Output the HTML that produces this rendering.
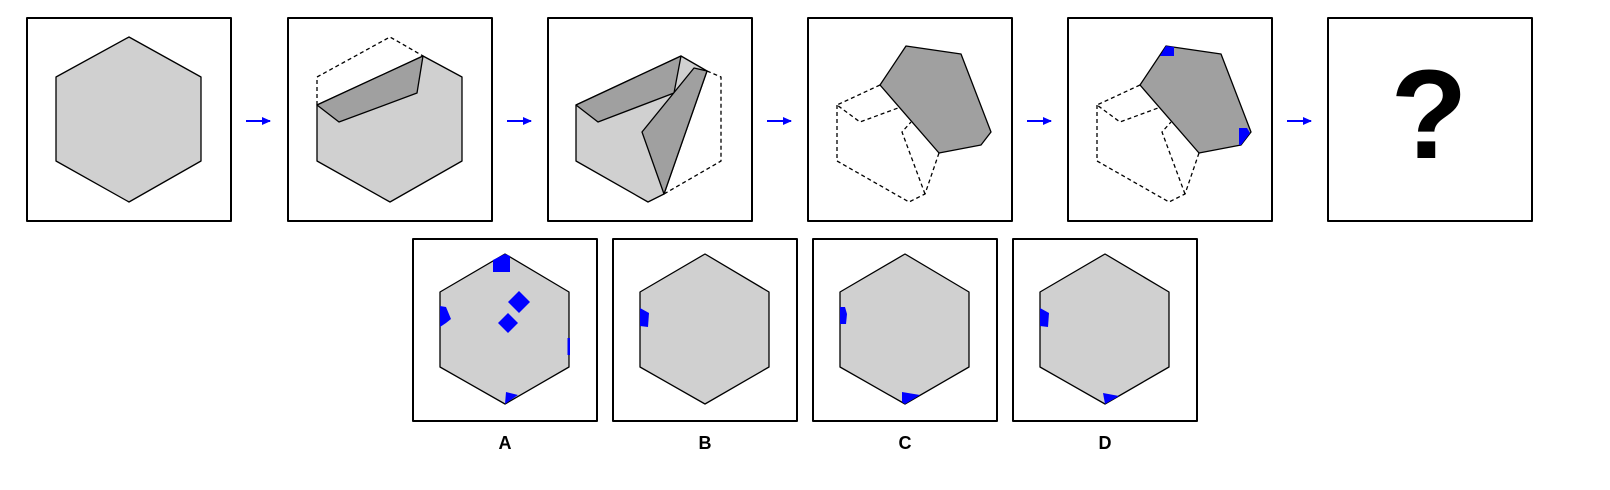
<!DOCTYPE html>
<html><head><meta charset="utf-8"><style>
html,body{margin:0;padding:0;background:#fff;}
svg{display:block;}
text{font-family:"Liberation Sans",sans-serif;font-weight:bold;}
</style></head><body>
<svg width="1610" height="490" viewBox="0 0 1610 490">
<defs>
<marker id="ah" markerUnits="userSpaceOnUse" markerWidth="9" markerHeight="8" refX="8" refY="4" orient="auto"><path d="M0,0 L9,4 L0,8 z" fill="#0000ff"/></marker>
</defs>
<g stroke="#000" stroke-width="1.3" stroke-linejoin="round">
<g transform="translate(27,18)">
<rect x="0" y="0" width="204" height="203" fill="#fff" stroke-width="2"/>
<polygon points="102,19 174,59 174,143 102,184 29,143 29,59" fill="#d0d0d0"/>
</g>
<g transform="translate(288,18)">
<rect x="0" y="0" width="204" height="203" fill="#fff" stroke-width="2"/>
<polygon points="29,87 135,38 174,59 174,143 102,184 29,143" fill="#d0d0d0"/>
<polygon points="29,87 135,38 129,75 51,104" fill="#a0a0a0"/>
<polyline points="29,87 29,59 102,19 135,38" fill="none" stroke-dasharray="4,3"/>
</g>
<g transform="translate(548,18)">
<rect x="0" y="0" width="204" height="203" fill="#fff" stroke-width="2"/>
<polygon points="28,87 133,38 159,53 116,176 100,184 28,143" fill="#d0d0d0"/>
<polygon points="28,87 133,38 126,75 50,104" fill="#a0a0a0"/>
<polygon points="94,114 146,50 159,53 116,176" fill="#a0a0a0"/>
<polyline points="159,53 173,59 173,143 116,176" fill="none" stroke-dasharray="4,3"/>
</g>
<g transform="translate(808,18)">
<rect x="0" y="0" width="204" height="203" fill="#fff" stroke-width="2"/>
<g fill="none" stroke-dasharray="4,3">
<polyline points="72,67 29,87 52,104 90,90"/>
<polyline points="29,87 29,143 101,184 117,176 131,135"/>
<polyline points="117,176 94,114 103,104"/>
</g>
<polygon points="98,28 153,36 183,114 173,127 131,135 72,67" fill="#a0a0a0"/>
</g>
<g transform="translate(1068,18)">
<rect x="0" y="0" width="204" height="203" fill="#fff" stroke-width="2"/>
<g fill="none" stroke-dasharray="4,3">
<polyline points="72,67 29,87 52,104 90,90"/>
<polyline points="29,87 29,143 101,184 117,176 131,135"/>
<polyline points="117,176 94,114 103,104"/>
</g>
<polygon points="98,28 153,36 183,114 173,127 131,135 72,67" fill="#a0a0a0"/>
<polygon points="98,28 106,29 106,38 92,38" fill="#0000ff" stroke="none"/>
<polygon points="171,110 179,110 182,115 173,127 171,127" fill="#0000ff" stroke="none"/>
</g>
<g transform="translate(1328,18)">
<rect x="0" y="0" width="204" height="203" fill="#fff" stroke-width="2"/>
</g>
<g transform="translate(413,239)">
<rect x="0" y="0" width="184" height="182" fill="#fff" stroke-width="2"/>
<polygon points="92,15 156,53 156,128 92,165 27,128 27,53" fill="#d0d0d0"/>
<g fill="#0000ff" stroke="none">
<polygon points="80,21 92,15 97,17 97,33 80,33"/>
<polygon points="106,52 117,63 106,74 95,63"/>
<polygon points="95,74 105,84 95,94 85,84"/>
<polygon points="27,67 33,68 38,80 33,84 27,88"/>
<polygon points="154.5,99 157,99 157,116 154.5,116"/>
<polygon points="93,153 105,156 92,165"/>
</g>
</g>
<g transform="translate(613,239)">
<rect x="0" y="0" width="184" height="182" fill="#fff" stroke-width="2"/>
<polygon points="92,15 156,53 156,128 92,165 27,128 27,53" fill="#d0d0d0"/>
<polygon points="27,69 36,74 35,88 27,87" fill="#0000ff" stroke="none"/>
</g>
<g transform="translate(813,239)">
<rect x="0" y="0" width="184" height="182" fill="#fff" stroke-width="2"/>
<polygon points="92,15 156,53 156,128 92,165 27,128 27,53" fill="#d0d0d0"/>
<polygon points="27,68 32,68 34,75 33,85 27,85" fill="#0000ff" stroke="none"/>
<polygon points="89,153 107,156 92,165 89,163" fill="#0000ff" stroke="none"/>
</g>
<g transform="translate(1013,239)">
<rect x="0" y="0" width="184" height="182" fill="#fff" stroke-width="2"/>
<polygon points="92,15 156,53 156,128 92,165 27,128 27,53" fill="#d0d0d0"/>
<polygon points="27,69 36,74 35,88 27,87" fill="#0000ff" stroke="none"/>
<polygon points="90,154 106,157 92,165" fill="#0000ff" stroke="none"/>
</g>
</g>
<g stroke="#0000ff" stroke-width="2" marker-end="url(#ah)">
<line x1="246" y1="121" x2="270" y2="121"/>
<line x1="507" y1="121" x2="531" y2="121"/>
<line x1="767" y1="121" x2="791" y2="121"/>
<line x1="1027" y1="121" x2="1051" y2="121"/>
<line x1="1287" y1="121" x2="1311" y2="121"/>
</g>
<text x="1429" y="158" font-size="126" text-anchor="middle">?</text>
<g font-size="18" text-anchor="middle">
<text x="505" y="449">A</text>
<text x="705" y="449">B</text>
<text x="905" y="449">C</text>
<text x="1105" y="449">D</text>
</g>
</svg>
</body></html>
